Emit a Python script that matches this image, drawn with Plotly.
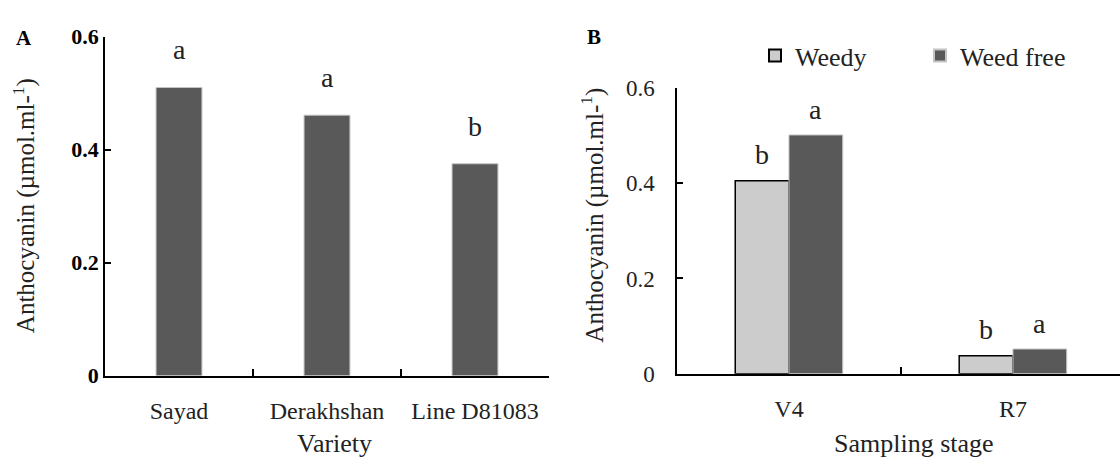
import plotly.graph_objects as go

# ---- data ----
varieties = ["Sayad", "Derakhshan", "Line D81083"]
anth_variety = [0.51, 0.461, 0.375]
letters_variety = ["a", "a", "b"]

stages = ["V4", "R7"]
weedy = [0.405, 0.038]
weed_free = [0.501, 0.052]
letters_weedy = ["b", "b"]
letters_weed_free = ["a", "a"]

ytick_vals = [0, 0.2, 0.4, 0.6]
ytick_text = ["0", "0.2", "0.4", "0.6"]

FONT = "Liberation Serif"
DARK = "#595959"
LIGHT = "#cccccc"
TXT = "#222222"
W, H = 1120, 473


def px_x(p):
    return p / W


def px_y(p):
    return 1 - p / H


fig = go.Figure()

fig.add_trace(go.Bar(
    x=varieties, y=anth_variety, xaxis="x", yaxis="y", width=0.31,
    marker=dict(color=DARK, line=dict(color="#c4c4c4", width=1)),
    showlegend=False,
))
fig.add_trace(go.Bar(
    x=stages, y=weedy, name="Weedy", xaxis="x2", yaxis="y2",
    marker=dict(color=LIGHT, line=dict(color="black", width=1.5)),
))
fig.add_trace(go.Bar(
    x=stages, y=weed_free, name="Weed free", xaxis="x2", yaxis="y2",
    marker=dict(color=DARK, line=dict(color="#c4c4c4", width=1)),
))

axis_common = dict(showline=True, linecolor="black", linewidth=1.5,
                   ticks="inside", tickcolor="black", tickwidth=1.5,
                   showgrid=False, zeroline=False)

annotations = []
# significance letters
for cat, val, lt in zip(varieties, anth_variety, letters_variety):
    annotations.append(dict(x=cat, y=val, xref="x", yref="y", text=lt, showarrow=False,
                            xanchor="center", yanchor="bottom", yshift=20,
                            font=dict(family=FONT, size=28, color=TXT)))
for cat, val, lt in zip(stages, weedy, letters_weedy):
    annotations.append(dict(x=cat, y=val, xref="x2", yref="y2", text=lt, showarrow=False,
                            xanchor="center", yanchor="bottom", yshift=9, xshift=-27,
                            font=dict(family=FONT, size=28, color=TXT)))
for cat, val, lt in zip(stages, weed_free, letters_weed_free):
    annotations.append(dict(x=cat, y=val, xref="x2", yref="y2", text=lt, showarrow=False,
                            xanchor="center", yanchor="bottom", yshift=8, xshift=27,
                            font=dict(family=FONT, size=28, color=TXT)))

# panel letters and axis titles
annotations += [
    dict(x=px_x(24), y=px_y(27), xref="paper", yref="paper", text="<b>A</b>", showarrow=False,
         xanchor="center", yanchor="middle", font=dict(family=FONT, size=21, color="black")),
    dict(x=px_x(594), y=px_y(26), xref="paper", yref="paper", text="<b>B</b>", showarrow=False,
         xanchor="center", yanchor="middle", font=dict(family=FONT, size=21, color="black")),
    dict(x=px_x(334), y=px_y(473), xref="paper", yref="paper", text="Variety", showarrow=False,
         xanchor="center", yanchor="bottom", font=dict(family=FONT, size=26, color=TXT)),
    dict(x=px_x(914), y=px_y(473), xref="paper", yref="paper", text="Sampling stage", showarrow=False,
         xanchor="center", yanchor="bottom", font=dict(family=FONT, size=26, color=TXT)),
    dict(x=px_x(24), y=px_y(205), xref="paper", yref="paper", text="Anthocyanin (µmol.ml-<sup>1</sup>)",
         textangle=-90, showarrow=False, xanchor="center", yanchor="middle",
         font=dict(family=FONT, size=25, color=TXT)),
    dict(x=px_x(593), y=px_y(215), xref="paper", yref="paper", text="Anthocyanin (µmol.ml-<sup>1</sup>)",
         textangle=-90, showarrow=False, xanchor="center", yanchor="middle",
         font=dict(family=FONT, size=25, color=TXT)),
]

fig.update_layout(
    width=W, height=H, margin=dict(l=0, r=0, t=0, b=0),
    paper_bgcolor="white", plot_bgcolor="white",
    barmode="group", bargap=0.52, bargroupgap=0,
    font=dict(family=FONT, color=TXT),
    xaxis=dict(domain=[px_x(105), px_x(549)], anchor="y", range=[-0.5, 2.5],
               tickson="boundaries", ticklen=7, ticklabelstandoff=13,
               tickfont=dict(family=FONT, size=24, color=TXT), **axis_common),
    yaxis=dict(domain=[px_y(384), px_y(26)], anchor="x", range=[0, 0.6],
               tickvals=ytick_vals, ticktext=["<b>%s</b>" % t for t in ytick_text],
               ticklen=6, tickfont=dict(family=FONT, size=22, color="black"), **axis_common),
    xaxis2=dict(domain=[px_x(677), 1.0], anchor="y2", range=[-0.5, 1.478],
                tickson="boundaries", ticklen=7, ticklabelstandoff=13,
                tickfont=dict(family=FONT, size=24, color=TXT), **axis_common),
    yaxis2=dict(domain=[px_y(382), px_y(80)], anchor="x2", range=[0, 0.6],
                tickvals=ytick_vals, ticktext=ytick_text, ticklabelstandoff=16,
                ticklen=6, tickfont=dict(family=FONT, size=23, color=TXT), **axis_common),
    legend=dict(orientation="h", x=px_x(755), y=px_y(46), xanchor="left", yanchor="middle",
                font=dict(family=FONT, size=26, color=TXT), bgcolor="rgba(0,0,0,0)",
                entrywidth=120, entrywidthmode="pixels", itemsizing="constant"),
    annotations=annotations,
)

fig.write_html("out.html")
